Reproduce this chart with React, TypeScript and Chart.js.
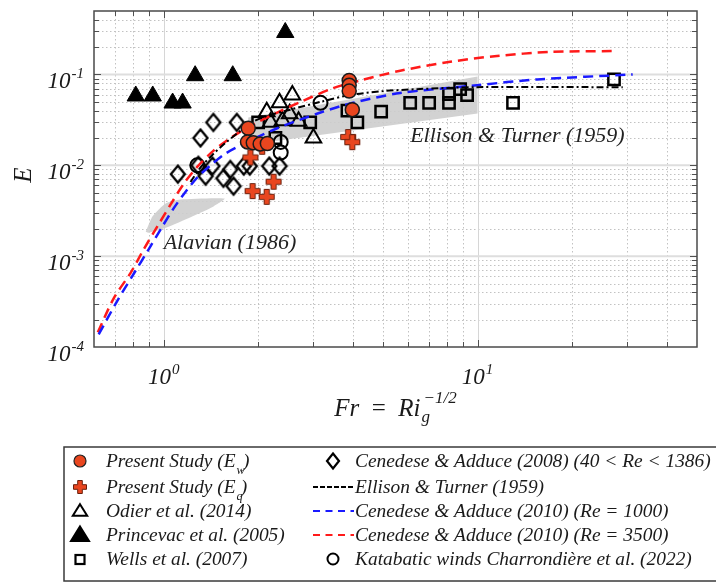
import React, { useEffect, useRef } from "react";
import { Chart, registerables } from "chart.js";
Chart.register(...registerables);

// ---------- axis ranges ----------
const X_MIN = 0.6;
const X_MAX = 50;
const Y_MIN = 1e-4;
const Y_MAX = 0.5;
const X_LABELED = [1, 10];
const X_LABEL_EXP = ["0", "1"];
const Y_LABELED = [1e-1, 1e-2, 1e-3, 1e-4];
const Y_LABEL_EXP = ["-1", "-2", "-3", "-4"];

// ---------- data ----------
// Present Study (E_w)
const ewFr = [1.86, 1.85, 1.93, 2.03, 2.14, 3.9, 3.9, 3.9, 3.99];
const ewE = [0.0256, 0.0181, 0.0177, 0.0172, 0.0174, 0.086, 0.076, 0.0656, 0.041];
// Present Study (E_q)
const eqFr = [1.89, 1.92, 2.13, 2.24, 2.06, 3.87, 3.99];
const eqE = [0.0122, 0.0052, 0.0045, 0.0066, 0.016, 0.0205, 0.018];
// Odier et al. (2014)
const odFr = [2.57, 2.34, 2.13, 2.52, 2.39, 2.69, 3.0, 2.19];
const odE = [0.0595, 0.049, 0.039, 0.037, 0.031, 0.0305, 0.02, 0.0298];
// Princevac et al. (2005)
const prFr = [0.815, 0.923, 1.068, 1.149, 1.26, 1.66, 2.44];
const prE = [0.058, 0.058, 0.0485, 0.0485, 0.097, 0.097, 0.29];
// Wells et al. (2007)
const weFr = [2.0, 2.27, 2.93, 3.85, 4.14, 4.93, 6.1, 7.01, 8.11, 8.11, 8.8, 9.26, 12.97, 27.2];
const weE = [0.0297, 0.02, 0.0297, 0.04, 0.0297, 0.039, 0.0488, 0.0488, 0.0488, 0.061, 0.069, 0.0594, 0.0488, 0.0883];
// Cenedese & Adduce (2008)
const cd08Fr = [1.11, 1.31, 1.44, 1.71, 1.29, 1.36, 1.43, 1.55, 1.63, 1.67, 1.8, 1.88, 2.17, 2.34];
const cd08E = [0.008, 0.02, 0.0297, 0.0297, 0.01, 0.0076, 0.0098, 0.0072, 0.009, 0.0059, 0.0098, 0.0098, 0.0098, 0.0098];
// Katabatic winds Charrondière et al. (2022)
const kaFr = [1.28, 2.36, 2.36, 3.16];
const kaE = [0.01, 0.0181, 0.0138, 0.0488];
// Ellison & Turner (1959)
const etFr = [1.218, 1.311, 1.431, 1.574, 1.719, 1.86, 2.11, 2.53, 3.16, 3.93, 5.01, 6.42, 9.96, 29.0];
const etE = [0.00656, 0.0095, 0.0131, 0.0177, 0.0226, 0.0283, 0.0345, 0.041, 0.05, 0.0594, 0.0656, 0.069, 0.0725, 0.0725];
// Cenedese & Adduce (2010) (Re = 1000)
const c1000Fr = [0.621, 0.714, 0.803, 0.896, 0.993, 1.076, 1.175, 1.283, 1.411, 1.574, 1.85, 2.3, 3.16, 4.01, 5.67, 9.96, 15.5, 31.2];
const c1000E = [0.000138, 0.000328, 0.00064, 0.00119, 0.00215, 0.00336, 0.00513, 0.00743, 0.01, 0.01346, 0.0181, 0.0256, 0.0381, 0.0488, 0.0625, 0.0762, 0.0883, 0.1];
// Cenedese & Adduce (2010) (Re = 3500)
const c3500Fr = [0.617, 0.694, 0.785, 0.864, 0.957, 1.053, 1.158, 1.283, 1.442, 1.633, 1.86, 2.3, 2.73, 3.47, 4.23, 5.67, 8.18, 11.53, 17.0, 27.0];
const c3500E = [0.000145, 0.000345, 0.000656, 0.00119, 0.00215, 0.00371, 0.00625, 0.00975, 0.0145, 0.02, 0.0263, 0.0381, 0.05, 0.0707, 0.086, 0.11, 0.138, 0.16, 0.177, 0.181];
// Shaded region: Ellison & Turner (1959)
const etRegionFr = [1.86, 10.0, 10.0, 1.86, 1.86];
const etRegionE = [0.0336, 0.0952, 0.0371, 0.0168, 0.0336];
// Shaded region: Alavian (1986)
const alRegionFr = [0.877, 0.923, 1.015, 1.132, 1.563, 1.442, 1.219, 1.015, 0.896, 0.877];
const alRegionE = [0.00186, 0.00276, 0.00381, 0.0042, 0.0043, 0.00353, 0.00269, 0.00205, 0.00181, 0.00186];

const LEGEND_COL1 = [
  { key: "ew", label: "Present Study (E", sub: "w", tail: ")" },
  { key: "eq", label: "Present Study (E", sub: "q", tail: ")" },
  { key: "od", label: "Odier et al. (2014)" },
  { key: "pr", label: "Princevac et al. (2005)" },
  { key: "we", label: "Wells et al. (2007)" },
];
const LEGEND_COL2 = [
  { key: "cd", label: "Cenedese & Adduce (2008) (40 < Re < 1386)" },
  { key: "et", label: "Ellison & Turner (1959)" },
  { key: "b1000", label: "Cenedese & Adduce (2010) (Re = 1000)" },
  { key: "r3500", label: "Cenedese & Adduce (2010) (Re = 3500)" },
  { key: "ka", label: "Katabatic winds Charrondière et al. (2022)" },
];

const SERIF = "'Liberation Serif','Times New Roman','DejaVu Serif',serif";
const RED_FILL = "#e9461f";
const RED_LINE = "#ff1a1a";
const BLUE_LINE = "#1a1aff";

const zip = (xs: number[], ys: number[]) => xs.map((x, i) => ({ x, y: ys[i] }));

function logTicks(min: number, max: number): number[] {
  const out: number[] = [];
  for (let k = -5; k <= 3; k++) {
    for (let m = 1; m <= 9; m++) {
      const v = m * Math.pow(10, k);
      if (v >= min * 0.9999 && v <= max * 1.0001) out.push(v);
    }
  }
  return out;
}
const isMajor = (v: number) => Math.abs(Math.log10(v) - Math.round(Math.log10(v))) < 1e-9;

function plusPath(g: CanvasRenderingContext2D, cx: number, cy: number, L: number, t: number) {
  g.beginPath();
  g.moveTo(cx - t, cy - L);
  g.lineTo(cx + t, cy - L);
  g.lineTo(cx + t, cy - t);
  g.lineTo(cx + L, cy - t);
  g.lineTo(cx + L, cy + t);
  g.lineTo(cx + t, cy + t);
  g.lineTo(cx + t, cy + L);
  g.lineTo(cx - t, cy + L);
  g.lineTo(cx - t, cy + t);
  g.lineTo(cx - L, cy + t);
  g.lineTo(cx - L, cy - t);
  g.lineTo(cx - t, cy - t);
  g.closePath();
}
function drawPlus(g: CanvasRenderingContext2D, cx: number, cy: number, L: number, t: number) {
  plusPath(g, cx, cy, L, t);
  g.fillStyle = RED_FILL;
  g.fill();
  g.lineWidth = 1;
  g.strokeStyle = "#6b1f0c";
  g.stroke();
}
function drawDiamond(g: CanvasRenderingContext2D, cx: number, cy: number, hw: number, hh: number, lw: number) {
  g.beginPath();
  g.moveTo(cx, cy - hh);
  g.lineTo(cx + hw, cy);
  g.lineTo(cx, cy + hh);
  g.lineTo(cx - hw, cy);
  g.closePath();
  g.lineWidth = lw;
  g.strokeStyle = "#000";
  g.lineJoin = "miter";
  g.stroke();
}
function makeImg(w: number, h: number, fn: (g: CanvasRenderingContext2D) => void) {
  const c = document.createElement("canvas");
  c.width = w;
  c.height = h;
  const g = c.getContext("2d")!;
  fn(g);
  return c;
}

export default function App() {
  const ref = useRef<HTMLCanvasElement>(null);

  useEffect(() => {
    const canvas = ref.current!;
    const plusImg = makeImg(18, 18, (g) => drawPlus(g, 9, 9, 7.5, 2.6));
    const diamondImg = makeImg(18, 22, (g) => drawDiamond(g, 9, 11, 7, 8.5, 2.3));

    const xTicks = logTicks(X_MIN, X_MAX);
    const yTicks = logTicks(Y_MIN, Y_MAX);

    function drawLegendMarker(g: CanvasRenderingContext2D, key: string, x: number, y: number) {
      g.save();
      g.setLineDash([]);
      switch (key) {
        case "ew":
          g.beginPath(); g.arc(x, y, 6, 0, Math.PI * 2);
          g.fillStyle = RED_FILL; g.fill(); g.lineWidth = 1.2; g.strokeStyle = "#222"; g.stroke();
          break;
        case "eq":
          drawPlus(g, x, y, 6.5, 2.3);
          break;
        case "od":
        case "pr": {
          const r = key === "od" ? 8 : 10;
          g.beginPath();
          g.moveTo(x, y - r * 0.85);
          g.lineTo(x + r * 0.9, y + r * 0.6);
          g.lineTo(x - r * 0.9, y + r * 0.6);
          g.closePath();
          g.lineWidth = 2;
          g.strokeStyle = "#000";
          g.lineJoin = "miter";
          if (key === "pr") { g.fillStyle = "#000"; g.fill(); }
          g.stroke();
          break;
        }
        case "we":
          g.lineWidth = 2.2; g.strokeStyle = "#000";
          g.strokeRect(x - 4.5, y - 4, 9, 9);
          break;
        case "cd":
          drawDiamond(g, x, y, 6, 7.5, 2.2);
          break;
        case "ka":
          g.beginPath(); g.arc(x, y, 5.5, 0, Math.PI * 2);
          g.lineWidth = 2; g.strokeStyle = "#000"; g.stroke();
          break;
        case "et":
          g.strokeStyle = "#000"; g.lineWidth = 2; g.setLineDash([5, 2]);
          g.beginPath(); g.moveTo(313, y); g.lineTo(354, y); g.stroke();
          break;
        case "b1000":
        case "r3500":
          g.strokeStyle = key === "b1000" ? BLUE_LINE : RED_LINE; g.lineWidth = 2.2; g.setLineDash([7, 5.5]);
          g.beginPath(); g.moveTo(313, y); g.lineTo(354, y); g.stroke();
          break;
      }
      g.restore();
    }

    const gridPlugin = {
      id: "gridPlugin",
      beforeDatasetsDraw(chart: any) {
        const { ctx, chartArea, scales } = chart;
        const { left, right, top, bottom } = chartArea;
        const xs = scales.x, ys = scales.y;
        ctx.save();
        ctx.setLineDash([1.5, 2.5]);
        ctx.lineWidth = 1;
        ctx.strokeStyle = "#c2c2c2";
        xTicks.filter((v) => !isMajor(v)).forEach((v) => {
          const p = Math.round(xs.getPixelForValue(v)) + 0.5;
          if (p <= left + 1 || p >= right - 1) return;
          ctx.beginPath(); ctx.moveTo(p, top); ctx.lineTo(p, bottom); ctx.stroke();
        });
        yTicks.filter((v) => !isMajor(v)).forEach((v) => {
          const p = Math.round(ys.getPixelForValue(v)) + 0.5;
          if (p <= top + 1 || p >= bottom - 1) return;
          ctx.beginPath(); ctx.moveTo(left, p); ctx.lineTo(right, p); ctx.stroke();
        });
        ctx.setLineDash([]);
        ctx.strokeStyle = "#d6d6d6";
        ctx.lineWidth = 1;
        xTicks.filter(isMajor).forEach((v) => {
          const p = Math.round(xs.getPixelForValue(v)) + 0.5;
          ctx.beginPath(); ctx.moveTo(p, top); ctx.lineTo(p, bottom); ctx.stroke();
        });
        ctx.lineWidth = 2;
        ctx.strokeStyle = "#dedede";
        yTicks.filter(isMajor).forEach((v) => {
          const p = ys.getPixelForValue(v);
          if (p <= top + 1 || p >= bottom - 1) return;
          ctx.beginPath(); ctx.moveTo(left, p); ctx.lineTo(right, p); ctx.stroke();
        });
        ctx.restore();
      },
      afterDatasetsDraw(chart: any) {
        const { ctx, chartArea, scales } = chart;
        const { left, right, top, bottom } = chartArea;
        const xs = scales.x, ys = scales.y;
        ctx.save();
        ctx.strokeStyle = "#505050";
        ctx.lineWidth = 1;
        xTicks.forEach((v) => {
          const p = Math.round(xs.getPixelForValue(v)) + 0.5;
          if (p <= left + 1 || p >= right - 1) return;
          const L = isMajor(v) ? 7 : 5;
          ctx.beginPath(); ctx.moveTo(p, bottom); ctx.lineTo(p, bottom - L); ctx.stroke();
          ctx.beginPath(); ctx.moveTo(p, top); ctx.lineTo(p, top + L); ctx.stroke();
        });
        yTicks.forEach((v) => {
          const p = Math.round(ys.getPixelForValue(v)) + 0.5;
          if (p <= top + 1 || p >= bottom - 1) return;
          const L = isMajor(v) ? 7 : 5;
          ctx.beginPath(); ctx.moveTo(left, p); ctx.lineTo(left + L, p); ctx.stroke();
          ctx.beginPath(); ctx.moveTo(right, p); ctx.lineTo(right - L, p); ctx.stroke();
        });
        ctx.lineWidth = 1.5;
        ctx.strokeStyle = "#4a4a4a";
        ctx.strokeRect(left, top, right - left, bottom - top);
        ctx.restore();
      },
      afterDraw(chart: any) {
        const { ctx, scales } = chart;
        const xs = scales.x, ys = scales.y;
        ctx.save();
        ctx.fillStyle = "#1a1a1a";
        ctx.textBaseline = "alphabetic";
        const baseFont = `italic 23px ${SERIF}`;
        const expFont = `italic 15px ${SERIF}`;
        // y tick labels
        Y_LABELED.forEach((v, i) => {
          const p = ys.getPixelForValue(v);
          ctx.font = expFont;
          const we = ctx.measureText(Y_LABEL_EXP[i]).width;
          ctx.font = baseFont;
          const wb = ctx.measureText("10").width;
          const xr = 84;
          ctx.textAlign = "left";
          ctx.fillText("10", xr - we - wb - 1, p + 14);
          ctx.font = expFont;
          ctx.fillText(Y_LABEL_EXP[i], xr - we, p + 4);
        });
        // x tick labels
        X_LABELED.forEach((v, i) => {
          const p = xs.getPixelForValue(v);
          ctx.font = expFont;
          const we = ctx.measureText(X_LABEL_EXP[i]).width;
          ctx.font = baseFont;
          const wb = ctx.measureText("10").width;
          const x0 = p - (wb + we + 1) / 2;
          ctx.textAlign = "left";
          ctx.fillText("10", x0, 384);
          ctx.font = expFont;
          ctx.fillText(X_LABEL_EXP[i], x0 + wb + 1, 374);
        });
        // x axis title: Fr = Ri_g^{-1/2}
        {
          const big = `italic 25px ${SERIF}`;
          const bigR = `25px ${SERIF}`;
          const small = `italic 17px ${SERIF}`;
          const parts: [string, string][] = [["Fr", big], ["  =  ", bigR], ["Ri", big]];
          let w = 0;
          parts.forEach(([t, f]) => { ctx.font = f; w += ctx.measureText(t).width; });
          ctx.font = small;
          const wExp = ctx.measureText("\u22121/2").width;
          const total = w + 3 + wExp;
          const cx = (chart.chartArea.left + chart.chartArea.right) / 2;
          let x = cx - total / 2;
          const base = 416;
          ctx.textAlign = "left";
          parts.forEach(([t, f]) => { ctx.font = f; ctx.fillText(t, x, base); x += ctx.measureText(t).width; });
          ctx.font = small;
          ctx.fillText("g", x + 1, base + 6);
          ctx.fillText("\u22121/2", x + 3, base - 13);
        }
        // y axis title E
        ctx.save();
        ctx.translate(31, 175);
        ctx.rotate(-Math.PI / 2);
        ctx.font = `italic 25px ${SERIF}`;
        ctx.textAlign = "center";
        ctx.fillText("E", 0, 0);
        ctx.restore();
        // annotations
        ctx.font = `italic 22px ${SERIF}`;
        ctx.textAlign = "left";
        ctx.fillStyle = "#222";
        ctx.fillText("Ellison & Turner (1959)", xs.getPixelForValue(6.1), ys.getPixelForValue(0.0181));
        ctx.fillText("Alavian (1986)", xs.getPixelForValue(1.0), ys.getPixelForValue(0.00119));

        // legend box
        ctx.lineWidth = 1.5;
        ctx.strokeStyle = "#3a3a3a";
        ctx.strokeRect(64, 447, 720, 134);
        const baselines = [467, 493, 517, 541, 565];
        const legFont = `italic 19.4px ${SERIF}`;
        const subFont = `italic 12.5px ${SERIF}`;
        LEGEND_COL1.forEach((it: any, i) => {
          const b = baselines[i];
          const my = b - 6;
          drawLegendMarker(ctx, it.key, 80, my);
          ctx.fillStyle = "#1a1a1a";
          ctx.font = legFont;
          ctx.textAlign = "left";
          ctx.fillText(it.label, 106, b);
          if (it.sub) {
            const w = ctx.measureText(it.label).width;
            ctx.font = subFont;
            ctx.fillText(it.sub, 106 + w + 1, b + 7);
            const ws = ctx.measureText(it.sub).width;
            ctx.font = legFont;
            ctx.fillText(it.tail, 106 + w + ws - 1, b);
          }
        });
        LEGEND_COL2.forEach((it, i) => {
          const b = baselines[i];
          const my = b - 6;
          drawLegendMarker(ctx, it.key, 333, my);
          ctx.fillStyle = "#1a1a1a";
          ctx.font = legFont;
          ctx.textAlign = "left";
          ctx.fillText(it.label, 355, b);
        });
        ctx.restore();
      },
    };

    const lineDs = (label: string, xs: number[], ys: number[], color: string, dash: number[], width: number) => ({
      label,
      data: zip(xs, ys),
      showLine: true,
      borderColor: color,
      backgroundColor: color,
      borderWidth: width,
      borderDash: dash,
      pointRadius: 0,
      tension: 0.3,
      fill: false,
      order: 5,
    });

    const chart = new Chart(canvas, {
      type: "scatter",
      data: {
        datasets: [
          {
            label: "Present Study (Ew)",
            data: zip(ewFr, ewE),
            pointStyle: "circle",
            pointRadius: 7,
            backgroundColor: RED_FILL,
            borderColor: "#1a1a1a",
            borderWidth: 1.5,
            order: 1,
          },
          {
            label: "Present Study (Eq)",
            data: zip(eqFr, eqE),
            pointStyle: plusImg as any,
            pointRadius: 8,
            order: 2,
          },
          lineDs("Ellison & Turner (1959)", etFr, etE, "#000", [7, 3, 2, 3], 2),
          lineDs("Cenedese & Adduce (2010) (Re = 1000)", c1000Fr, c1000E, BLUE_LINE, [10, 6], 2.5),
          lineDs("Cenedese & Adduce (2010) (Re = 3500)", c3500Fr, c3500E, RED_LINE, [10, 6], 2.5),
          {
            label: "Odier et al. (2014)",
            data: zip(odFr, odE),
            pointStyle: "triangle",
            pointRadius: 9,
            backgroundColor: "rgba(255,255,255,0)",
            borderColor: "#000",
            borderWidth: 2,
            order: 10,
          },
          {
            label: "Princevac et al. (2005)",
            data: zip(prFr, prE),
            pointStyle: "triangle",
            pointRadius: 10,
            backgroundColor: "#000",
            borderColor: "#000",
            borderWidth: 1,
            order: 10,
          },
          {
            label: "Wells et al. (2007)",
            data: zip(weFr, weE),
            pointStyle: "rect",
            pointRadius: 8,
            backgroundColor: "rgba(255,255,255,0)",
            borderColor: "#000",
            borderWidth: 2.5,
            order: 10,
          },
          {
            label: "Cenedese & Adduce (2008)",
            data: zip(cd08Fr, cd08E),
            pointStyle: diamondImg as any,
            pointRadius: 9,
            order: 10,
          },
          {
            label: "Katabatic winds Charrondière et al. (2022)",
            data: zip(kaFr, kaE),
            pointStyle: "circle",
            pointRadius: 7,
            backgroundColor: "rgba(255,255,255,0)",
            borderColor: "#000",
            borderWidth: 2,
            order: 10,
          },
          {
            label: "Ellison & Turner region",
            data: zip(etRegionFr, etRegionE),
            showLine: true,
            fill: "shape",
            backgroundColor: "rgba(205,205,205,0.9)",
            borderColor: "rgba(0,0,0,0)",
            borderWidth: 0,
            pointRadius: 0,
            order: 20,
          } as any,
          {
            label: "Alavian region",
            data: zip(alRegionFr, alRegionE),
            showLine: true,
            fill: "shape",
            backgroundColor: "rgba(205,205,205,0.9)",
            borderColor: "rgba(0,0,0,0)",
            borderWidth: 0,
            pointRadius: 0,
            tension: 0.2,
            order: 20,
          } as any,
        ],
      },
      options: {
        responsive: false,
        devicePixelRatio: 1,
        animation: false,
        events: [],
        layout: { padding: { left: 94, top: 4, right: 19, bottom: 236 } },
        plugins: {
          legend: { display: false },
          tooltip: { enabled: false },
        },
        scales: {
          x: { type: "logarithmic", min: X_MIN, max: X_MAX, display: false },
          y: { type: "logarithmic", min: Y_MIN, max: Y_MAX, display: false },
        },
      },
      plugins: [gridPlugin],
    });
    return () => chart.destroy();
  }, []);

  return (
    <div style={{ position: "fixed", left: 0, top: 0, width: 716, height: 583, background: "#fff" }}>
      <canvas ref={ref} width={716} height={583} style={{ display: "block", width: 716, height: 583 }} />
    </div>
  );
}
